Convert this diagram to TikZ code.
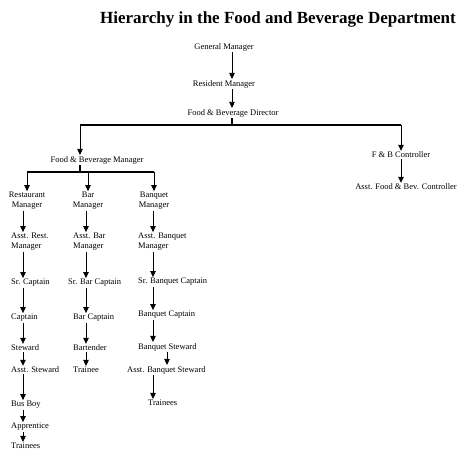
\documentclass[tikz,border=0pt]{standalone}
\usepackage{fontspec}
\setmainfont{Liberation Serif}
\usetikzlibrary{arrows.meta,positioning}
\tikzset{
  % job title
  jobnode/.style={inner sep=1pt, font=\fontsize{8.5}{10}\selectfont, align=center},
  % job title in a column, left edge fixed
  coljob/.style={jobnode, anchor=west, align=left},
  % downward arrow
  downarr/.style={-{Triangle[length=6pt,width=5.5pt]}, line width=0.8pt},
  % horizontal bus line
  busline/.style={line width=1.1pt},
}
\begin{document}
\begin{tikzpicture}[x=1pt,y=-1pt]
  \useasboundingbox (0,0) rectangle (462,452);
  % title
  \node[font=\bfseries\fontsize{17}{20}\selectfont] (title) at (278,19)
    {Hierarchy in the Food and Beverage Department};
  % top of the tree
  \node[jobnode] (gm) at (224,47) {General Manager};
  \node[jobnode] (rm) at (224,84) {Resident Manager};
  \node[jobnode] (fbd) at (233,113) {Food \& Beverage Director};
  \node[jobnode] (fbm) at (97,160) {Food \& Beverage Manager};
  \node[jobnode] (fbc) at (401,155) {F \& B Controller};
  \node[jobnode] (afbc) at (406,187) {Asst. Food \& Bev. Controller};
  \coordinate (spine) at (232,125);
  \coordinate (lft) at (80,125);
  \coordinate (rgt) at (401,125);
  \draw[downarr] (gm.south -| spine) -- (rm.north -| spine);
  \draw[downarr] (rm.south -| spine) -- (fbd.north -| spine);
  \draw[busline] (fbd.south -| spine) -- (spine);
  \draw[busline] (lft) -- (rgt);
  \draw[downarr] (lft) -- (lft |- fbm.north);
  \draw[downarr] (rgt) -- (rgt |- fbc.north);
  \draw[downarr] (fbc.south -| rgt) -- (afbc.north -| rgt);
  % outlet managers
  \node[jobnode] (rsm) at (27,201) {Restaurant\\Manager};
  \node[jobnode] (brm) at (88,201) {Bar\\Manager};
  \node[jobnode] (bqm) at (154,201) {Banquet\\Manager};
  \coordinate (bus2) at (80,172);
  \draw[busline] (fbm.south -| bus2) -- (bus2);
  \draw[busline] (bus2 -| rsm) -- (bus2 -| bqm);
  \foreach \m in {rsm,brm,bqm}
    \draw[downarr] (bus2 -| \m) -- (\m.north);
  % restaurant column
  \coordinate (c1) at (23,0);
  \node[coljob] (arm) at (10,242) {Asst. Rest.\\Manager};
  \node[coljob] (sc) at (10,283) {Sr. Captain};
  \node[coljob] (cap) at (10,318) {Captain};
  \node[coljob] (stw) at (10,348) {Steward};
  \node[coljob] (ast) at (10,370) {Asst. Steward};
  \node[coljob] (bb) at (10,405) {Bus Boy};
  \node[coljob] (app) at (10,427) {Apprentice};
  \node[coljob] (tr1) at (10,446) {Trainees};
  \foreach \a/\b in {rsm/arm,arm/sc,sc/cap,cap/stw,stw/ast,ast/bb,bb/app,app/tr1}
    \draw[downarr] (\a.south -| c1) -- (\b.north -| c1);
  % bar column
  \coordinate (c2) at (86,0);
  \node[coljob] (abm) at (72,242) {Asst. Bar\\Manager};
  \node[coljob] (sbc) at (67,283) {Sr. Bar Captain};
  \node[coljob] (bc) at (72,318) {Bar Captain};
  \node[coljob] (bt) at (72,348) {Bartender};
  \node[coljob] (tr2) at (72,370) {Trainee};
  \foreach \a/\b in {brm/abm,abm/sbc,sbc/bc,bc/bt,bt/tr2}
    \draw[downarr] (\a.south -| c2) -- (\b.north -| c2);
  % banquet column
  \coordinate (c3) at (153,0);
  \node[coljob] (abqm) at (137,242) {Asst. Banquet\\Manager};
  \node[coljob] (sbqc) at (137,282) {Sr. Banquet Captain};
  \node[coljob] (bqc) at (137,315) {Banquet Captain};
  \node[coljob] (bqs) at (137,347) {Banquet Steward};
  \node[coljob] (abqs) at (126,370) {Asst. Banquet Steward};
  \node[coljob] (tr3) at (147,403) {Trainees};
  \foreach \a/\b in {bqm/abqm,abqm/sbqc,sbqc/bqc,bqc/bqs,abqs/tr3}
    \draw[downarr] (\a.south -| c3) -- (\b.north -| c3);
  \draw[downarr] (bqs.south -| 167,0) -- (abqs.north -| 167,0);
\end{tikzpicture}
\end{document}
